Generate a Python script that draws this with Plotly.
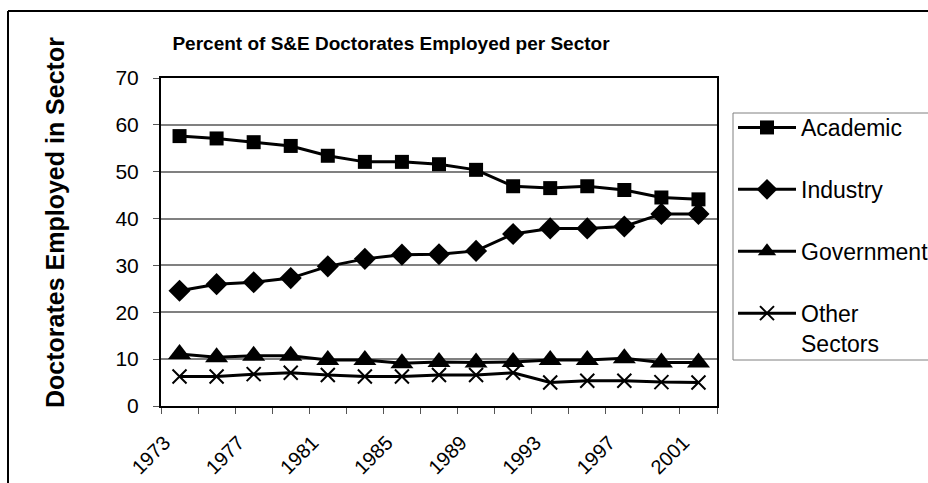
import plotly.graph_objects as go

# Survey years (every other year, 1973-2001)
years = [1973, 1975, 1977, 1979, 1981, 1983, 1985, 1987,
         1989, 1991, 1993, 1995, 1997, 1999, 2001]

# Percent of S&E doctorates employed in each sector
academic = [57.6, 57.1, 56.3, 55.5, 53.4, 52.1, 52.1, 51.6,
            50.4, 46.9, 46.5, 46.9, 46.1, 44.5, 44.1]
industry = [24.6, 26.0, 26.4, 27.3, 29.8, 31.4, 32.3, 32.4,
            33.1, 36.7, 37.9, 37.9, 38.3, 41.0, 41.0]
government = [11.1, 10.4, 10.7, 10.7, 9.8, 9.8, 9.1, 9.4,
              9.3, 9.4, 9.8, 9.8, 10.2, 9.3, 9.3]
other = [6.3, 6.3, 6.8, 7.1, 6.6, 6.3, 6.3, 6.6,
         6.6, 7.1, 5.0, 5.4, 5.4, 5.1, 5.0]

series_names = ["Academic", "Industry", "Government", "Other<br>Sectors"]
label_years = [1973, 1977, 1981, 1985, 1989, 1993, 1997, 2001]
y_ticks = [0, 10, 20, 30, 40, 50, 60, 70]

FONT = "Liberation Sans, Arial, sans-serif"

W, H = 928, 483
L, R, T, B = 161, 211, 78, 77
pw, ph = W - L - R, H - T - B


def px_x(px):
    return (px - L) / pw


def px_y(py):
    return (H - B - py) / ph


fig = go.Figure()

styles = [
    dict(symbol="square", size=14),
    dict(symbol="diamond", size=17),
    dict(symbol="triangle-up", size=20),
    dict(symbol="x-thin", size=14, line=dict(width=2, color="black")),
]
for i, (name, vals, mk) in enumerate(zip(series_names,
                                         [academic, industry, government, other],
                                         styles)):
    fig.add_trace(go.Scatter(
        x=years, y=vals, name=name, mode="lines+markers",
        line=dict(color="black", width=3),
        marker=dict(color="black", **mk),
        legendgroup=f"g{i}",
    ))

# category boundaries carry the tick marks; centres carry the year labels
boundaries = [years[0] - 1 + 2 * k for k in range(len(years) + 1)]
xr = [boundaries[0], boundaries[-1]]

fig.update_layout(
    width=W, height=H,
    margin=dict(l=L, r=R, t=T, b=B, autoexpand=False),
    paper_bgcolor="white", plot_bgcolor="white",
    font=dict(family=FONT, color="black"),
    showlegend=True,
    legend=dict(
        x=px_x(733), y=px_y(106), xanchor="left", yanchor="top",
        borderwidth=0, bgcolor="rgba(0,0,0,0)",
        font=dict(family=FONT, size=23, color="black"),
        itemwidth=58, tracegroupgap=29, valign="top",
        itemsizing="trace",
    ),
    title=dict(
        text="<b>Percent of S&E Doctorates Employed per Sector</b>",
        x=391 / W, xanchor="center", y=1 - 43 / H, yanchor="middle",
        font=dict(family=FONT, size=19, color="black"),
    ),
    xaxis=dict(
        range=xr, tickvals=boundaries, ticktext=[""] * len(boundaries),
        ticks="outside", ticklen=6, tickwidth=1, tickcolor="#555",
        showgrid=False, zeroline=False,
        showline=True, linecolor="black", linewidth=2, mirror=True,
    ),
    xaxis2=dict(
        overlaying="x", matches="x", side="bottom", anchor="y",
        range=xr, tickvals=label_years, ticktext=[str(v) for v in label_years],
        tickangle=-45, ticks="", showgrid=False, zeroline=False,
        showline=False, tickfont=dict(family=FONT, size=20, color="black"),
        ticklabelstandoff=20, ticklabelshift=-15,
    ),
    yaxis=dict(
        range=[0, 70], tickvals=y_ticks, ticks="outside", ticklen=6,
        tickwidth=1, tickcolor="#555",
        tickfont=dict(family=FONT, size=21, color="black"),
        ticklabelstandoff=10,
        showgrid=True, gridcolor="#808080", gridwidth=2, zeroline=False,
        showline=True, linecolor="black", linewidth=2, mirror=True,
    ),
    annotations=[dict(
        text="<b>Doctorates Employed in Sector</b>",
        xref="paper", yref="paper", x=px_x(55), y=px_y(223),
        xanchor="center", yanchor="middle", textangle=-90, showarrow=False,
        font=dict(family=FONT, size=25, color="black"),
    )],
    shapes=[
        # chart frame (left and top edges fall on the page)
        dict(type="line", xref="paper", yref="paper",
             x0=px_x(8), x1=px_x(8), y0=px_y(11), y1=px_y(500),
             line=dict(color="black", width=2)),
        dict(type="line", xref="paper", yref="paper",
             x0=px_x(8), x1=px_x(940), y0=px_y(11), y1=px_y(11),
             line=dict(color="black", width=2)),
        # legend box
        dict(type="rect", xref="paper", yref="paper",
             x0=px_x(733), x1=px_x(945), y0=px_y(360), y1=px_y(113),
             line=dict(color="#808080", width=1), layer="below"),
    ],
)

# invisible trace so the label axis is laid out
fig.add_trace(go.Scatter(x=[years[0]], y=[0], xaxis="x2", mode="markers",
                         marker=dict(opacity=0), showlegend=False,
                         hoverinfo="skip"))

fig.write_html("out.html")
